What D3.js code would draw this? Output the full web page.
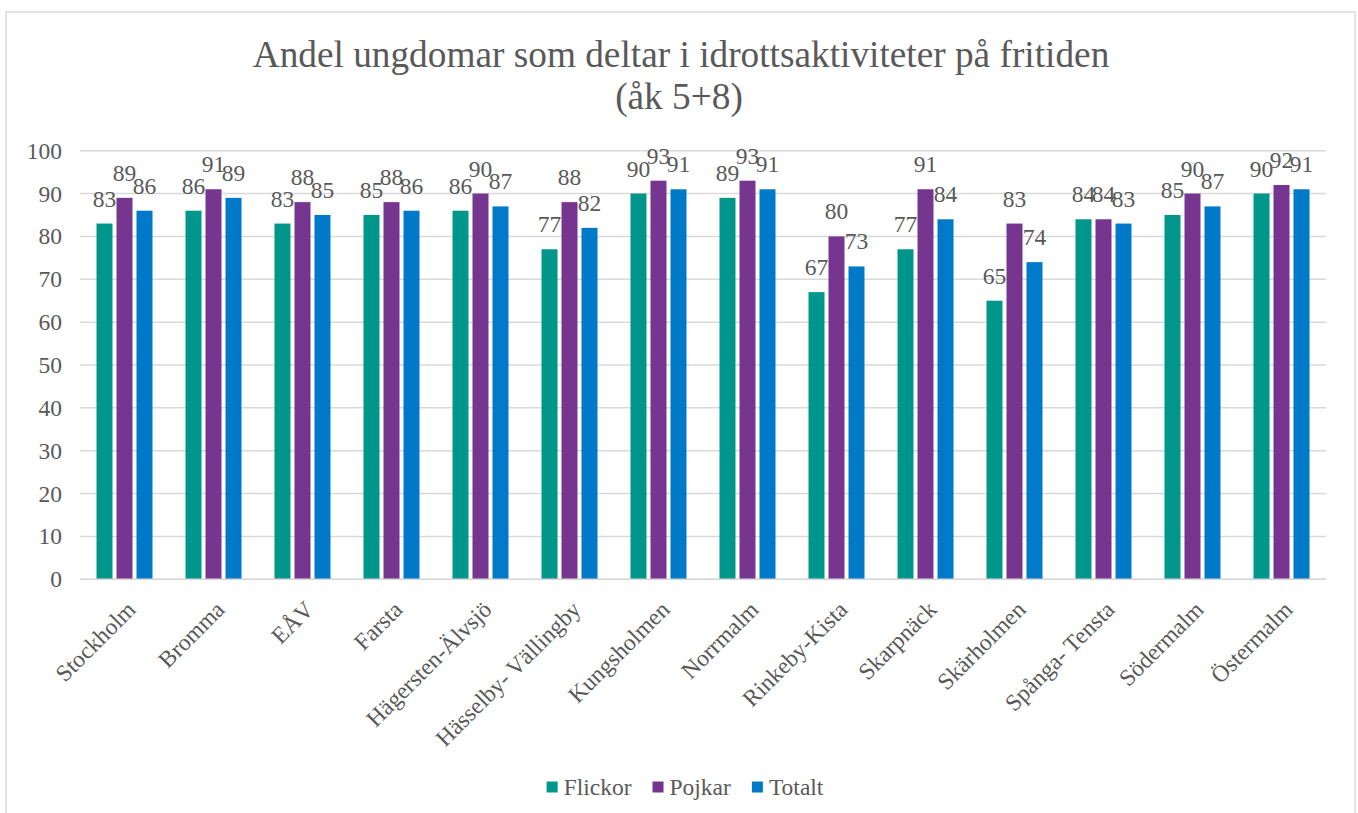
<!DOCTYPE html>
<html>
<head>
<meta charset="utf-8">
<script src="https://cdn.jsdelivr.net/npm/d3@7"></script>
<style>
  body { margin: 0; background: #fff; }
</style>
</head>
<body>
<script>
// data
var categories = ["Stockholm", "Bromma", "EÅV", "Farsta", "Hägersten-Älvsjö", "Hässelby- Vällingby",
    "Kungsholmen", "Norrmalm", "Rinkeby-Kista", "Skarpnäck", "Skärholmen", "Spånga- Tensta", "Södermalm", "Östermalm"];
var seriesNames = ["Flickor", "Pojkar", "Totalt"];
var flickor = [83, 86, 83, 85, 86, 77, 90, 89, 67, 77, 65, 84, 85, 90];
var pojkar  = [89, 91, 88, 88, 90, 88, 93, 93, 80, 91, 83, 84, 90, 92];
var totalt  = [86, 89, 85, 86, 87, 82, 91, 91, 73, 84, 74, 83, 87, 91];
var yTicks = [0, 10, 20, 30, 40, 50, 60, 70, 80, 90, 100];
var colors = ["#00968c", "#763690", "#007ac8"];

var width = 1358;
var height = 813;
var plot = {left: 80, right: 1326, top: 150.7, bottom: 579.3};
var font = "'Liberation Serif', 'Times New Roman', serif";
var fontSize = 23.5;
var textColor = "#595959";

var svg = d3.select("body")
    .append("svg")
    .attr("width", width)
    .attr("height", height)
    .attr("font-family", font);

// chart border
svg.append("rect")
    .attr("x", 6)
    .attr("y", 12)
    .attr("width", 1349)
    .attr("height", 900)
    .attr("fill", "#fff")
    .attr("stroke", "#d9d9d9")
    .attr("stroke-width", 1.5);

// title
svg.append("text")
    .attr("x", 681)
    .attr("y", 67)
    .attr("text-anchor", "middle")
    .attr("font-family", font)
    .attr("font-size", "37.3px")
    .style("fill", textColor)
    .text("Andel ungdomar som deltar i idrottsaktiviteter på fritiden");
svg.append("text")
    .attr("x", 679)
    .attr("y", 108.5)
    .attr("text-anchor", "middle")
    .attr("font-family", font)
    .attr("font-size", "37.3px")
    .style("fill", textColor)
    .text("(åk 5+8)");

var rows = categories.map((c, i) => ({name: c, values: [flickor[i], pojkar[i], totalt[i]]}));

var x0 = d3.scaleBand()
    .domain(categories)
    .range([plot.left, plot.right])
    .padding(0);

var x1 = d3.scaleBand()
    .domain(seriesNames)
    .range([16.5, x0.bandwidth() - 16.5])
    .paddingInner(0.2)
    .paddingOuter(0);

var y = d3.scaleLinear()
    .domain([0, 100])
    .range([plot.bottom, plot.top]);

// gridlines
svg.append("g")
    .attr("class", "grid")
    .selectAll("line")
    .data(yTicks)
    .enter()
    .append("line")
    .attr("x1", plot.left)
    .attr("x2", plot.right)
    .attr("y1", (d) => y(d))
    .attr("y2", (d) => y(d))
    .attr("stroke", "#d9d9d9")
    .attr("stroke-width", 1.5);

// y axis labels
var leftAxis = d3.axisLeft(y)
    .tickValues(yTicks)
    .tickSize(0)
    .tickPadding(18);
var yAxis = svg.append("g")
    .attr("class", "left axis")
    .attr("transform", "translate(" + plot.left + ", 0)")
    .call(leftAxis)
    .attr("font-family", font)
    .attr("font-size", fontSize);
yAxis.select(".domain").remove();
yAxis.selectAll("text")
    .attr("font-family", font)
    .attr("font-size", fontSize + "px")
    .style("fill", textColor);

// bars
var groups = svg.append("g")
    .selectAll("g")
    .data(rows)
    .enter()
    .append("g")
    .attr("transform", (d) => "translate(" + x0(d.name) + ", 0)");

groups.selectAll("rect")
    .data((d) => d.values.map((v, j) => ({key: seriesNames[j], value: v, color: colors[j]})))
    .enter()
    .append("rect")
    .attr("x", (d) => x1(d.key))
    .attr("y", (d) => y(d.value))
    .attr("width", x1.bandwidth())
    .attr("height", (d) => plot.bottom - y(d.value))
    .attr("fill", (d) => d.color);

// data labels
groups.selectAll("text")
    .data((d) => d.values.map((v, j) => ({key: seriesNames[j], value: v})))
    .enter()
    .append("text")
    .attr("x", (d) => x1(d.key) + x1.bandwidth() / 2)
    .attr("y", (d) => y(d.value) - 17)
    .attr("text-anchor", "middle")
    .attr("font-family", font)
    .attr("font-size", fontSize + "px")
    .style("fill", textColor)
    .text((d) => d.value);

// x axis baseline
svg.append("line")
    .attr("x1", plot.left)
    .attr("x2", plot.right)
    .attr("y1", plot.bottom)
    .attr("y2", plot.bottom)
    .attr("stroke", "#d9d9d9")
    .attr("stroke-width", 1.5);

// category labels, rotated
svg.append("g")
    .selectAll("text")
    .data(categories)
    .enter()
    .append("text")
    .attr("transform", (d) => "translate(" + (x0(d) + x0.bandwidth() / 2 + 12.5) + ", 611) rotate(-45)")
    .attr("text-anchor", "end")
    .attr("font-family", font)
    .attr("font-size", fontSize + "px")
    .style("fill", textColor)
    .text((d) => d);

// legend
var legend = svg.append("g").attr("class", "legend");
var lx = 0;
seriesNames.forEach((s, i) => {
    var item = legend.append("g").attr("transform", "translate(" + lx + ", 0)");
    item.append("rect")
        .attr("x", 0)
        .attr("y", -13.5)
        .attr("width", 11)
        .attr("height", 11)
        .attr("fill", colors[i]);
    var t = item.append("text")
        .attr("x", 17)
        .attr("y", 0)
        .attr("font-family", font)
        .attr("font-size", fontSize + "px")
        .style("fill", textColor)
        .text(s);
    lx += 17 + t.node().getComputedTextLength() + 21;
});
var legendWidth = lx - 21;
legend.attr("transform", "translate(" + (685 - legendWidth / 2) + ", 795)");
</script>
</body>
</html>
